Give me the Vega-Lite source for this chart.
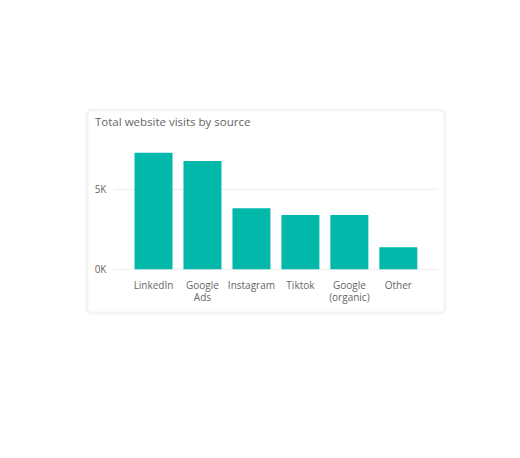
{
  "$schema": "https://vega.github.io/schema/vega-lite/v6.json",
  "width": 358,
  "height": 203,
  "autosize": "none",
  "padding": {"left": 87, "top": 110, "right": 75, "bottom": 145},
  "background": "white",
  "config": {
    "view": {
      "fill": "white",
      "stroke": "#000000",
      "strokeOpacity": 0.045,
      "strokeWidth": 3,
      "cornerRadius": 5
    },
    "font": "Open Sans"
  },
  "title": {
    "text": "Total website visits by source",
    "anchor": "start",
    "frame": "group",
    "orient": "top",
    "offset": 0,
    "baseline": "alphabetic",
    "dx": 8,
    "dy": 27,
    "fontSize": 11.5,
    "fontWeight": "normal",
    "color": "#666666"
  },
  "data": {
    "values": [
      {"source": "LinkedIn", "visits": 7290},
      {"source": "Google Ads", "visits": 6770},
      {"source": "Instagram", "visits": 3810},
      {"source": "Tiktok", "visits": 3390},
      {"source": "Google (organic)", "visits": 3390},
      {"source": "Other", "visits": 1375}
    ]
  },
  "layer": [
    {
      "mark": {"type": "rule", "color": "#ececec", "strokeWidth": 1},
      "data": {"values": [{"v": 0}, {"v": 5000}]},
      "encoding": {
        "y": {"field": "v", "type": "quantitative"},
        "x": {"datum": "LinkedIn", "type": "nominal", "bandPosition": -0.55},
        "x2": {"datum": "Other", "bandPosition": 1.55}
      }
    },
    {
      "mark": {"type": "bar", "color": "#01B8AA"},
      "encoding": {
        "x": {
          "field": "source",
          "type": "nominal",
          "sort": null,
          "title": null,
          "scale": {
            "domain": ["LinkedIn", "Google Ads", "Instagram", "Tiktok", "Google (organic)", "Other"],
            "paddingInner": 0.2245,
            "paddingOuter": 0.768,
            "align": 0.632
          },
          "axis": {
            "orient": "bottom",
            "offset": -28,
            "bandPosition": 0.5,
            "ticks": false,
            "domain": false,
            "labelPadding": 0,
            "labelAngle": 0,
            "labelAlign": "center",
            "labelFontSize": 10,
            "labelColor": "#666666",
            "labelLineHeight": 12.7,
            "labelExpr": "split(datum.label, ' ')"
          }
        },
        "y": {
          "field": "visits",
          "type": "quantitative",
          "title": null,
          "scale": {"domain": [-2730, 9956], "nice": false, "zero": false},
          "axis": {
            "orient": "left",
            "offset": -19,
            "values": [0, 5000],
            "ticks": false,
            "domain": false,
            "grid": false,
            "labelPadding": 0,
            "labelFontSize": 10,
            "labelColor": "#666666",
            "labelExpr": "datum.value / 1000 + 'K'"
          }
        },
        "y2": {"datum": 0}
      }
    }
  ]
}
